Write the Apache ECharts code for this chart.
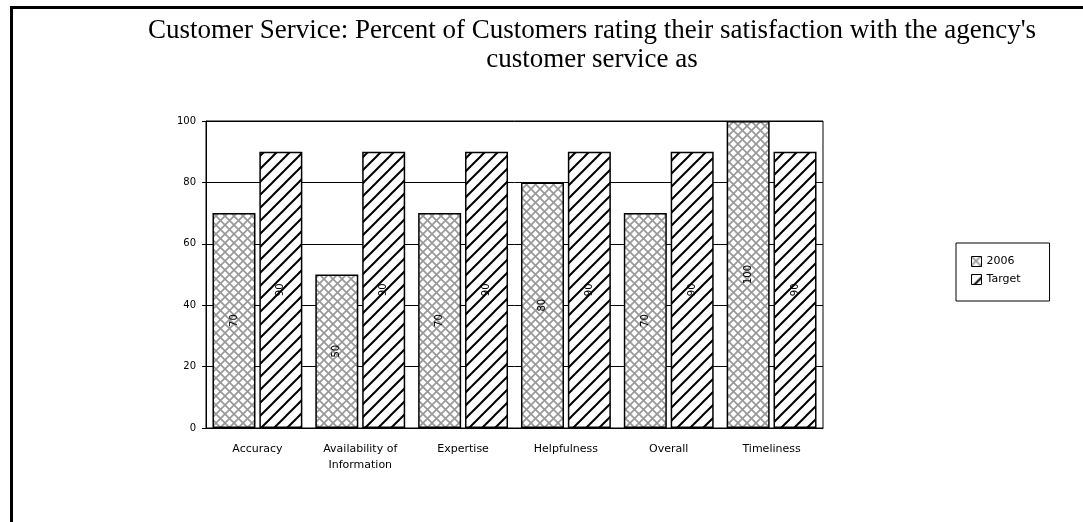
<!DOCTYPE html>
<html>
<head>
<meta charset="utf-8">
<script src="https://cdn.jsdelivr.net/npm/echarts@6/dist/echarts.min.js"></script>
<style>
html,body{margin:0;padding:0;background:#fff;}
#chart{width:1083px;height:522px;}
</style>
</head>
<body>
<div id="chart"></div>
<script>
var categories = ['Accuracy', 'Availability of\nInformation', 'Expertise', 'Helpfulness', 'Overall', 'Timeliness'];
var values2006 = [70, 50, 70, 80, 70, 100];
var valuesTarget = [90, 90, 90, 90, 90, 90];
var seriesNames = ['2006', 'Target'];
var yTicks = [0, 20, 40, 60, 80, 100];

function crossHatch() {
  var s = 9, c = document.createElement('canvas');
  c.width = s; c.height = s;
  var g = c.getContext('2d');
  g.fillStyle = '#fff'; g.fillRect(0, 0, s, s);
  g.strokeStyle = '#999'; g.lineWidth = 1.7;
  g.beginPath();
  g.moveTo(-1, -1); g.lineTo(s + 1, s + 1);
  g.moveTo(s + 1, -1); g.lineTo(-1, s + 1);
  g.stroke();
  return c;
}
function diagHatch() {
  var s = 13, c = document.createElement('canvas');
  c.width = s; c.height = s;
  var g = c.getContext('2d');
  g.fillStyle = '#fff'; g.fillRect(0, 0, s, s);
  g.strokeStyle = '#000'; g.lineWidth = 2;
  g.beginPath();
  g.moveTo(-2, s + 2); g.lineTo(s + 2, -2);
  g.moveTo(-2, 2); g.lineTo(2, -2);
  g.moveTo(s - 2, s + 2); g.lineTo(s + 2, s - 2);
  g.stroke();
  return c;
}

var FONT = '"DejaVu Sans", Verdana, sans-serif';
var chart = echarts.init(document.getElementById('chart'), null, {renderer: 'canvas'});
var labelStyle = {
  show: true, position: 'inside', rotate: 90,
  fontFamily: FONT, fontSize: 10, color: '#000'
};
chart.setOption({
  animation: false,
  backgroundColor: '#fff',
  graphic: [
    {type: 'line', shape: {x1: 10, y1: 7.5, x2: 1083, y2: 7.5}, style: {stroke: '#000', lineWidth: 3}},
    {type: 'line', shape: {x1: 11.5, y1: 6, x2: 11.5, y2: 522}, style: {stroke: '#000', lineWidth: 3}},
    {type: 'text', style: {
      text: "Customer Service: Percent of Customers rating their satisfaction with the agency's\ncustomer service as",
      x: 592, y: 16, align: 'center', verticalAlign: 'top',
      font: '27px "Liberation Serif", "Times New Roman", serif', lineHeight: 29, fill: '#000'
    }}
  ],
  grid: {left: 206, right: 260, top: 121, bottom: 94, show: true, borderColor: '#000', borderWidth: 1},
  legend: {
    orient: 'vertical', left: 956, top: 243,
    data: seriesNames,
    icon: 'rect',
    borderColor: '#000', borderWidth: 1,
    padding: [13, 29, 16, 15],
    itemWidth: 10, itemHeight: 10, itemGap: 7,
    textStyle: {fontFamily: FONT, fontSize: 11, color: '#000'},
    itemStyle: {borderColor: '#000', borderWidth: 1}
  },
  xAxis: {
    type: 'category', data: categories,
    axisLine: {lineStyle: {color: '#000', width: 1}},
    axisTick: {show: false},
    axisLabel: {color: '#000', fontFamily: FONT, fontSize: 11, margin: 13, lineHeight: 16, interval: 0}
  },
  yAxis: {
    type: 'value', min: yTicks[0], max: yTicks[yTicks.length - 1], interval: 20,
    axisLine: {show: true, lineStyle: {color: '#000', width: 1}},
    axisTick: {show: true, length: 4, lineStyle: {color: '#000'}},
    axisLabel: {color: '#000', fontFamily: FONT, fontSize: 10, margin: 10},
    splitLine: {lineStyle: {color: '#000', width: 1}}
  },
  series: [
    {
      name: seriesNames[0], type: 'bar', data: values2006,
      barWidth: 43, barGap: '9%',
      itemStyle: {color: {image: crossHatch(), repeat: 'repeat'}, borderColor: '#000', borderWidth: 1.5},
      label: labelStyle
    },
    {
      name: seriesNames[1], type: 'bar', data: valuesTarget,
      barWidth: 43, barGap: '9%',
      itemStyle: {color: {image: diagHatch(), repeat: 'repeat'}, borderColor: '#000', borderWidth: 1.5},
      label: labelStyle
    }
  ]
});
</script>
</body>
</html>
